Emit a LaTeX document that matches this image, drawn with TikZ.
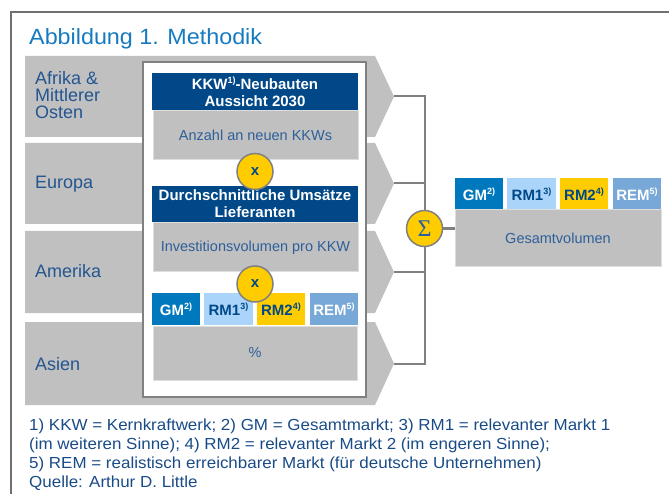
\documentclass[tikz,border=0pt]{standalone}
\usepackage{fontspec}
\setmainfont{Liberation Sans}
\newfontfamily\sigmafont{Liberation Serif}
\newfontfamily\widefont[FakeStretch=1.06]{Liberation Sans}
\usetikzlibrary{calc}

\definecolor{framegrey}{RGB}{112,112,112}
\definecolor{linegrey}{RGB}{128,128,128}
\definecolor{bandgrey}{RGB}{192,192,192}
\definecolor{boxgrey}{RGB}{192,192,192}
\definecolor{boxrim}{RGB}{222,222,222}
\definecolor{panelrim}{RGB}{128,128,128}
\definecolor{titleblue}{RGB}{22,122,192}
\definecolor{labelblue}{RGB}{35,85,145}
\definecolor{textblue}{RGB}{45,95,155}
\definecolor{headblue}{RGB}{0,72,135}
\definecolor{noteblue}{RGB}{25,75,135}
\definecolor{gmblue}{RGB}{0,120,190}
\definecolor{rmonelight}{RGB}{170,212,250}
\definecolor{opyellow}{RGB}{255,204,0}
\definecolor{remblue}{RGB}{120,168,216}

% raised footnote marker
\newcommand{\fnote}[1]{\raisebox{0.42em}{\fontsize{9}{9}\selectfont #1}}

\begin{document}
\begin{tikzpicture}[x=1pt,y=-1pt,
  band/.style={fill=bandgrey},
  conn/.style={draw=linegrey, line width=2pt},
  frameline/.style={draw=framegrey, line width=2.5pt},
  region/.style={text=labelblue, font=\fontsize{18}{17}\selectfont, inner sep=0pt, align=left},
  greybox/.style={fill=boxgrey, draw=boxrim, line width=1pt, text=textblue,
    font=\fontsize{14.5}{17}\selectfont, inner sep=0pt, minimum width=205pt},
  headbox/.style={fill=headblue, text=white, font=\bfseries\fontsize{15}{17}\selectfont,
    align=center, minimum width=206pt, inner sep=0pt},
  tab/.style={minimum width=48pt, minimum height=32pt, inner sep=0pt,
    font=\bfseries\fontsize{15}{17}\selectfont},
  gmtab/.style={tab, fill=gmblue, text=white},
  rmonetab/.style={tab, fill=rmonelight, text=headblue},
  rmtwotab/.style={tab, fill=opyellow, text=headblue},
  remtab/.style={tab, fill=remblue, text=white},
  opcircle/.style={circle, fill=opyellow, draw=linegrey, line width=1.5pt,
    minimum size=36pt, inner sep=0pt, text=headblue}
]
\useasboundingbox (0,0) rectangle (669,494);

% outer frame (open on the right and at the bottom)
\draw[frameline] (11,494) -- (11,12) -- (669,12);

% title
\node[anchor=base west, text=titleblue, font=\widefont\fontsize{22}{22}\selectfont, inner sep=0pt]
  (title) at (29,45) {Abbildung 1. Methodik};

% region bands, each ending in a right-pointing tip
\fill[band] (25,56)  -- (375,56)  -- (394,96.5)  -- (375,137) -- (25,137) -- cycle;
\fill[band] (25,143) -- (375,143) -- (394,183.5) -- (375,224) -- (25,224) -- cycle;
\fill[band] (25,231) -- (375,231) -- (394,272)   -- (375,313) -- (25,313) -- cycle;
\fill[band] (25,322) -- (375,322) -- (394,363.5) -- (375,405) -- (25,405) -- cycle;
\coordinate (t1) at (394,96.5);
\coordinate (t2) at (394,183.5);
\coordinate (t3) at (394,272);
\coordinate (t4) at (394,363.5);

\node[region, anchor=north west] (afrika) at (35,71) {Afrika \&\\Mittlerer\\Osten};
\node[region, anchor=base west] (europa) at (35,189) {Europa};
\node[region, anchor=base west] (amerika) at (35,278) {Amerika};
\node[region, anchor=base west] (asien) at (35,370) {Asien};

% central calculation panel
\node[draw=panelrim, fill=white, line width=2pt, minimum width=223pt,
  minimum height=335pt, inner sep=0pt] (panel) at (254.5,229.5) {};

\node[headbox, minimum height=37pt] (head1) at (255,91.5)
  {KKW\fnote{1)}-Neubauten\\Aussicht 2030};
\node[greybox, minimum height=49pt] (anzahl) at (255.5,135.5) {Anzahl an neuen KKWs};

\node[headbox, minimum height=36pt] (head2) at (255,204)
  {Durchschnittliche Umsätze\\Lieferanten};
\node[greybox, minimum height=49pt] (invest) at (255.5,247.5) {Investitionsvolumen pro KKW};

\node[gmtab] (gm1) at (176,309) {GM\fnote{2)}};
\node[rmonetab, minimum width=49pt] (rma1) at (228.5,309) {RM1\fnote{3)}};
\node[rmtwotab] (rmb1) at (281,309) {RM2\fnote{4)}};
\node[remtab] (rem1) at (334,309) {REM\fnote{5)}};
\node[greybox, minimum width=204pt, minimum height=54pt] (pct) at (255,353) {\%};

\node[opcircle, font=\bfseries\fontsize{15}{15}\selectfont] (mult1) at (255,171.5) {x};
\node[opcircle, font=\bfseries\fontsize{15}{15}\selectfont] (mult2) at (255,284) {x};

% total volume block
\node[gmtab] (gm2) at (479,194) {GM\fnote{2)}};
\node[rmonetab, minimum width=49pt] (rma2) at (531.5,194) {RM1\fnote{3)}};
\node[rmtwotab] (rmb2) at (584,194) {RM2\fnote{4)}};
\node[remtab] (rem2) at (637,194) {REM\fnote{5)}};
\node[greybox, minimum width=206pt, minimum height=57pt] (ges) at (558,238.5) {Gesamtvolumen};

% summation of the four regions
\node[opcircle, text=textblue, font=\sigmafont\fontsize{24}{24}\selectfont] (sum) at (424.5,228.5) {Σ};
\draw[conn] (t1) -| (sum.north);
\draw[conn] (t4) -| (sum.south);
\draw[conn] (t2) -- (t2 -| sum.center);
\draw[conn] (t3) -- (t3 -| sum.center);
\draw[conn, line width=2.5pt] (sum.east) -- (sum.east -| ges.west);

% notes
\node[anchor=north west, align=left, text=noteblue, inner sep=0pt,
  font=\widefont\fontsize{16}{19}\selectfont] (notes) at (29,418.5)
  {1) KKW = Kernkraftwerk; 2) GM = Gesamtmarkt; 3) RM1 = relevanter Markt 1\\
   (im weiteren Sinne); 4) RM2 = relevanter Markt 2 (im engeren Sinne);\\
   5) REM = realistisch erreichbarer Markt (für deutsche Unternehmen)\\
   Quelle: Arthur D. Little};
\end{tikzpicture}
\end{document}
